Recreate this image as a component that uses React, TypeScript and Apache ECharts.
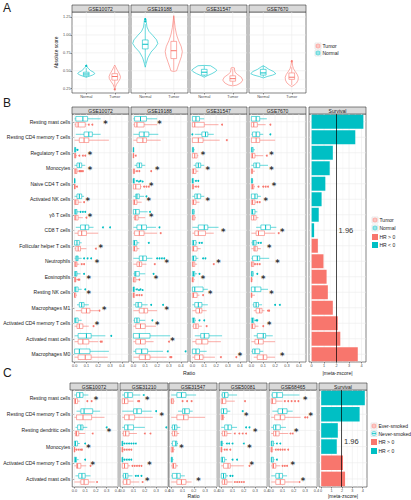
import React, { useEffect, useRef } from 'react';
import * as echarts from 'echarts';

const TEAL = '#00BFC4';
const RED = '#F8766D';
const FONT = '"Liberation Sans", Arial, Helvetica, sans-serif';

// ---------------- Panel A ----------------
const aDatasets = ['GSE10072', 'GSE19188', 'GSE31547', 'GSE7670'];
const aGroups = ['Normal', 'Tumor'];
const aScoreTicks = [0.25, 0.5, 0.75, 1.0, 1.25];
const aScoreMinor = [0.375, 0.625, 0.875, 1.125];
// violin outlines: [score, half-width as fraction of category band]
const violinGSE10072Normal = [[0.41, 0], [0.42, 0.08], [0.44, 0.22], [0.46, 0.3], [0.48, 0.26], [0.5, 0.16], [0.53, 0.08], [0.55, 0.04], [0.58, 0]];
const violinGSE10072Tumor = [[0.24, 0], [0.27, 0.02], [0.31, 0.06], [0.35, 0.13], [0.39, 0.19], [0.42, 0.2], [0.46, 0.16], [0.5, 0.1], [0.54, 0.05], [0.58, 0]];
const violinGSE19188Normal = [[0.55, 0], [0.6, 0.03], [0.68, 0.09], [0.76, 0.2], [0.83, 0.36], [0.88, 0.44], [0.93, 0.4], [0.99, 0.27], [1.05, 0.13], [1.11, 0.06], [1.17, 0.04], [1.21, 0.03], [1.235, 0]];
const violinGSE19188Tumor = [[0.49, 0], [0.5, 0.1], [0.55, 0.14], [0.62, 0.2], [0.7, 0.27], [0.77, 0.3], [0.84, 0.26], [0.92, 0.17], [1.0, 0.1], [1.1, 0.05], [1.2, 0.02], [1.27, 0]];
const violinGSE31547Normal = [[0.41, 0], [0.43, 0.1], [0.46, 0.27], [0.49, 0.4], [0.51, 0.44], [0.54, 0.34], [0.57, 0.22], [0.575, 0]];
const violinGSE31547Tumor = [[0.29, 0], [0.3, 0.14], [0.33, 0.28], [0.37, 0.35], [0.41, 0.3], [0.45, 0.16], [0.48, 0.08], [0.51, 0.065], [0.54, 0.06], [0.545, 0]];
const violinGSE7670Normal = [[0.4, 0], [0.42, 0.14], [0.44, 0.33], [0.46, 0.44], [0.49, 0.36], [0.52, 0.2], [0.55, 0.09], [0.57, 0]];
const violinGSE7670Tumor = [[0.28, 0], [0.3, 0.08], [0.33, 0.17], [0.37, 0.22], [0.41, 0.23], [0.45, 0.19], [0.49, 0.12], [0.53, 0.06], [0.57, 0.03], [0.61, 0.015], [0.65, 0]];
// box stats [min, q1, median, q3, max] for Normal, Tumor
const aBoxGSE10072 = [[0.41, 0.43, 0.455, 0.48, 0.54], [0.28, 0.37, 0.42, 0.46, 0.55]];
const aBoxGSE19188 = [[0.6, 0.805, 0.87, 0.93, 1.15], [0.5, 0.67, 0.78, 0.91, 1.26]];
const aBoxGSE31547 = [[0.42, 0.44, 0.48, 0.52, 0.57], [0.3, 0.355, 0.39, 0.43, 0.53]];
const aBoxGSE7670 = [[0.41, 0.44, 0.47, 0.52, 0.57], [0.3, 0.38, 0.41, 0.47, 0.55]];
// outliers: [dataset index, group, score]
const aOutliers = [[0, 0, 0.57], [0, 1, 0.24], [1, 0, 1.19], [1, 0, 1.22], [3, 1, 0.63]];

// ---------------- Panel B ----------------
const bCells = ['Resting mast cells', 'Resting CD4 memory T cells', 'Regulatory T cells', 'Monocytes', 'Naive CD4 T cells', 'Activated NK cells', 'γδ T cells', 'CD8 T cells', 'Follicular helper T cells', 'Neutrophils', 'Eosinophils', 'Resting NK cells', 'Macrophages M1', 'Activated CD4 memory T cells', 'Activated mast cells', 'Macrophages M0'];
const bDatasets = ['GSE10072', 'GSE19188', 'GSE31547', 'GSE7670'];
const ratioTicks = [0, 0.1, 0.2, 0.3, 0.4];
const ratioMinor = [0.05, 0.15, 0.25, 0.35, 0.45];

const bNormalGSE10072 = [[0, 0.01, 0.07, 0.11, 0.22], [0.01, 0.08, 0.12, 0.15, 0.22], [0, 0, 0.005, 0.01, 0.02], [0, 0.02, 0.04, 0.06, 0.09], [0, 0, 0, 0.003, 0.005], [0, 0.02, 0.04, 0.06, 0.08], [0, 0, 0.01, 0.02, 0.04], [0.01, 0.05, 0.09, 0.12, 0.16], [0, 0, 0.02, 0.04, 0.06], [0, 0.01, 0.02, 0.03, 0.06], [0, 0, 0.01, 0.02, 0.05], [0, 0, 0.01, 0.03, 0.06], [0.02, 0.04, 0.06, 0.08, 0.12], [0, 0, 0.01, 0.03, 0.06], [0, 0.03, 0.1, 0.14, 0.26], [0, 0, 0.04, 0.13, 0.29]];
const bTumorGSE10072 = [[0, 0.01, 0.03, 0.09, 0.1], [0, 0.04, 0.08, 0.12, 0.29], [0, 0, 0.005, 0.01, 0.02], [0, 0, 0.01, 0.02, 0.03], [0, 0, 0, 0.005, 0.01], [0, 0, 0.01, 0.03, 0.06], [0, 0, 0.01, 0.03, 0.07], [0, 0.03, 0.06, 0.1, 0.2], [0, 0.01, 0.03, 0.05, 0.1], [0, 0, 0.01, 0.02, 0.04], [0, 0, 0.005, 0.01, 0.02], [0, 0, 0, 0.01, 0.02], [0.01, 0.06, 0.1, 0.13, 0.2], [0, 0.02, 0.04, 0.07, 0.12], [0, 0.03, 0.07, 0.12, 0.2], [0, 0.03, 0.09, 0.14, 0.28]];
const bOutliersGSE10072 = [[0, 1, 0.12], [0, 1, 0.15], [2, 0, 0.025], [2, 1, 0.04], [2, 1, 0.07], [2, 1, 0.09], [3, 1, 0.04], [3, 1, 0.05], [3, 1, 0.06], [3, 1, 0.07], [4, 1, 0.02], [5, 1, 0.08], [6, 0, 0.05], [6, 0, 0.07], [6, 0, 0.09], [6, 1, 0.1], [7, 0, 0.24], [7, 0, 0.3], [8, 1, 0.18], [9, 0, 0.08], [9, 0, 0.11], [9, 0, 0.14], [9, 1, 0.06], [9, 1, 0.08], [10, 0, 0.08], [10, 1, 0.03], [10, 1, 0.04], [11, 0, 0.09], [12, 1, 0.21], [13, 1, 0.16], [14, 0, 0.31], [14, 1, 0.22], [14, 1, 0.23]];
const bStarsGSE10072 = [[0, 0.26], [2, 0.13], [3, 0.13], [5, 0.11], [6, 0.13], [8, 0.22], [9, 0.19], [10, 0.12], [11, 0.12], [12, 0.25], [13, 0.19]];

const bNormalGSE19188 = [[0, 0.01, 0.06, 0.11, 0.2], [0, 0.05, 0.09, 0.13, 0.21], [0, 0, 0, 0.003, 0.005], [0.01, 0.03, 0.05, 0.07, 0.1], [0, 0, 0, 0.01, 0.015], [0, 0.02, 0.03, 0.05, 0.09], [0, 0, 0.02, 0.05, 0.12], [0, 0.03, 0.07, 0.11, 0.19], [0, 0, 0.01, 0.03, 0.05], [0, 0.05, 0.08, 0.11, 0.16], [0, 0.01, 0.02, 0.05, 0.1], [0, 0, 0, 0.01, 0.02], [0, 0.02, 0.04, 0.07, 0.12], [0, 0.01, 0.03, 0.05, 0.1], [0, 0, 0.05, 0.14, 0.31], [0, 0.02, 0.07, 0.12, 0.25]];
const bTumorGSE19188 = [[0, 0.01, 0.03, 0.09, 0.2], [0, 0.03, 0.08, 0.11, 0.23], [0, 0, 0, 0.003, 0.005], [0, 0, 0.005, 0.01, 0.02], [0, 0, 0.02, 0.06, 0.07], [0, 0, 0.01, 0.03, 0.07], [0, 0.01, 0.02, 0.04, 0.1], [0, 0.01, 0.05, 0.09, 0.2], [0, 0, 0.01, 0.03, 0.05], [0, 0.03, 0.05, 0.07, 0.11], [0, 0, 0.005, 0.02, 0.04], [0, 0, 0, 0.01, 0.02], [0, 0.05, 0.09, 0.12, 0.2], [0, 0.02, 0.06, 0.1, 0.19], [0, 0.02, 0.06, 0.1, 0.17], [0, 0.05, 0.1, 0.14, 0.28]];
const bOutliersGSE19188 = [[2, 1, 0.02], [3, 1, 0.03], [3, 1, 0.05], [3, 1, 0.15], [4, 0, 0.03], [4, 0, 0.045], [4, 0, 0.06], [4, 0, 0.075], [4, 1, 0.09], [4, 1, 0.11], [4, 1, 0.13], [5, 0, 0.11], [6, 0, 0.14], [7, 0, 0.22], [7, 1, 0.23], [8, 0, 0.13], [9, 0, 0.2], [9, 0, 0.22], [9, 0, 0.24], [9, 0, 0.26], [9, 1, 0.18], [10, 0, 0.17], [10, 1, 0.05], [11, 0, 0.03], [11, 0, 0.045], [11, 0, 0.06], [11, 0, 0.075], [11, 1, 0.03], [11, 1, 0.05], [11, 1, 0.07], [12, 0, 0.15], [12, 0, 0.25], [13, 0, 0.16], [14, 1, 0.3], [15, 0, 0.29], [15, 0, 0.44], [15, 1, 0.31], [15, 1, 0.32]];
const bStarsGSE19188 = [[0, 0.22], [3, 0.2], [4, 0.15], [5, 0.13], [6, 0.15], [9, 0.28], [10, 0.19], [12, 0.28], [13, 0.2], [14, 0.33]];

const bNormalGSE31547 = [[0, 0, 0.03, 0.06, 0.1], [0.02, 0.08, 0.11, 0.13, 0.18], [0, 0, 0.005, 0.01, 0.02], [0.01, 0.03, 0.05, 0.07, 0.1], [0, 0, 0, 0.01, 0.015], [0, 0.02, 0.04, 0.07, 0.1], [0, 0, 0.005, 0.015, 0.02], [0, 0.05, 0.1, 0.13, 0.22], [0, 0, 0.01, 0.03, 0.04], [0, 0, 0.01, 0.03, 0.05], [0, 0, 0.01, 0.02, 0.04], [0, 0, 0.02, 0.09, 0.13], [0, 0.02, 0.05, 0.08, 0.13], [0, 0, 0.01, 0.02, 0.03], [0.02, 0.07, 0.1, 0.14, 0.25], [0, 0, 0.03, 0.06, 0.12]];
const bTumorGSE31547 = [[0, 0, 0.02, 0.1, 0.22], [0, 0, 0.05, 0.09, 0.23], [0, 0, 0.02, 0.04, 0.05], [0, 0, 0.01, 0.03, 0.05], [0, 0, 0.005, 0.01, 0.02], [0, 0, 0.01, 0.03, 0.06], [0, 0, 0.005, 0.02, 0.03], [0, 0.02, 0.05, 0.11, 0.18], [0, 0, 0.01, 0.04, 0.07], [0, 0, 0.005, 0.02, 0.04], [0, 0, 0, 0.01, 0.02], [0, 0, 0.01, 0.04, 0.06], [0, 0.03, 0.06, 0.08, 0.12], [0, 0.01, 0.03, 0.05, 0.08], [0, 0.03, 0.08, 0.13, 0.24], [0, 0.02, 0.06, 0.09, 0.19]];
const bOutliersGSE31547 = [[0, 1, 0.25], [1, 0, 0.0], [1, 1, 0.29], [4, 0, 0.03], [4, 0, 0.05], [4, 1, 0.03], [4, 1, 0.05], [8, 0, 0.06], [8, 0, 0.08], [9, 0, 0.09], [9, 0, 0.11], [9, 1, 0.18], [10, 0, 0.06], [11, 1, 0.09], [13, 0, 0.06], [13, 0, 0.1], [13, 1, 0.12], [15, 1, 0.24], [15, 1, 0.37]];
const bStarsGSE31547 = [[2, 0.09], [3, 0.13], [5, 0.13], [7, 0.26], [9, 0.22], [10, 0.09], [11, 0.15], [15, 0.4]];

const bNormalGSE7670 = [[0, 0, 0.04, 0.07, 0.13], [0, 0.01, 0.04, 0.07, 0.1], [0, 0, 0.005, 0.015, 0.03], [0, 0.02, 0.04, 0.07, 0.14], [0, 0, 0.005, 0.01, 0.015], [0, 0, 0.03, 0.05, 0.08], [0, 0, 0.01, 0.03, 0.05], [0.04, 0.08, 0.12, 0.16, 0.21], [0, 0.01, 0.02, 0.04, 0.05], [0, 0.01, 0.05, 0.07, 0.15], [0, 0, 0.005, 0.015, 0.02], [0, 0, 0.03, 0.08, 0.14], [0.01, 0.02, 0.04, 0.06, 0.09], [0, 0, 0.01, 0.02, 0.03], [0.02, 0.05, 0.1, 0.12, 0.18], [0, 0.01, 0.03, 0.07, 0.1]];
const bTumorGSE7670 = [[0, 0, 0.02, 0.05, 0.12], [0, 0, 0.04, 0.07, 0.2], [0, 0, 0.01, 0.03, 0.1], [0, 0, 0.005, 0.01, 0.03], [0, 0, 0.01, 0.02, 0.03], [0, 0, 0.01, 0.03, 0.04], [0, 0, 0.02, 0.04, 0.06], [0, 0.04, 0.06, 0.11, 0.2], [0, 0.02, 0.03, 0.05, 0.08], [0, 0, 0.005, 0.02, 0.025], [0, 0, 0, 0.005, 0.01], [0, 0, 0, 0.005, 0.03], [0.02, 0.04, 0.07, 0.09, 0.11], [0, 0, 0.01, 0.03, 0.06], [0, 0.03, 0.06, 0.1, 0.2], [0.02, 0.05, 0.1, 0.13, 0.2]];
const bOutliersGSE7670 = [[0, 1, 0.16], [1, 0, 0.16], [2, 1, 0.13], [4, 1, 0.06], [4, 1, 0.1], [4, 1, 0.12], [4, 1, 0.14], [5, 1, 0.05], [5, 1, 0.07], [7, 1, 0.23], [8, 0, 0.06], [8, 0, 0.08], [9, 1, 0.03], [9, 1, 0.05], [9, 1, 0.07], [10, 0, 0.05], [12, 0, 0.2], [12, 0, 0.24], [12, 1, 0.14], [12, 1, 0.15], [13, 0, 0.04], [13, 0, 0.05], [13, 1, 0.1]];
const bStarsGSE7670 = [[2, 0.17], [3, 0.17], [4, 0.19], [5, 0.12], [7, 0.26], [8, 0.15], [9, 0.22], [10, 0.1], [11, 0.17], [13, 0.15], [15, 0.26]];

const bZscore = [4.15, 3.5, 1.7, 1.45, 1.1, 0.8, 0.57, 0.2, 0.5, 0.95, 1.2, 1.3, 1.7, 2.1, 2.3, 3.7];
const bHR = ['<', '<', '<', '<', '<', '<', '<', '<', '>', '>', '>', '>', '>', '>', '>', '>'];

// ---------------- Panel C ----------------
const cCells = ['Resting mast cells', 'Resting CD4 memory T cells', 'Resting dendritic cells', 'Monocytes', 'Activated CD4 memory T cells', 'Activated mast cells'];
const cDatasets = ['GSE10072', 'GSE31210', 'GSE31547', 'GSE50081', 'GSE68465'];

const cNeverGSE10072 = [[0, 0.02, 0.05, 0.08, 0.13], [0.02, 0.06, 0.09, 0.17, 0.24], [0.01, 0.03, 0.06, 0.08, 0.12], [0, 0, 0.01, 0.03, 0.05], [0, 0, 0.01, 0.02, 0.04], [0.01, 0.04, 0.07, 0.1, 0.15]];
const cEverGSE10072 = [[0, 0, 0.01, 0.03, 0.05], [0, 0.02, 0.08, 0.16, 0.28], [0, 0.01, 0.02, 0.04, 0.1], [0, 0, 0, 0.005, 0.01], [0, 0.02, 0.03, 0.06, 0.11], [0, 0.06, 0.09, 0.13, 0.19]];
const cOutliersGSE10072 = [[2, 0, 0.3], [3, 0, 0.1], [4, 0, 0.1], [0, 1, 0.12], [0, 1, 0.16], [2, 1, 0.17], [3, 1, 0.02], [3, 1, 0.04], [3, 1, 0.06], [3, 1, 0.07], [4, 1, 0.15], [5, 1, 0.21]];
const cStarsGSE10072 = [[0, 0.2], [2, 0.32], [3, 0.13], [4, 0.17]];

const cNeverGSE31210 = [[0, 0.02, 0.05, 0.09, 0.16], [0, 0.1, 0.13, 0.17, 0.26], [0, 0.02, 0.05, 0.1, 0.2], [0, 0, 0, 0.005, 0.01], [0, 0, 0, 0.005, 0.01], [0, 0.01, 0.03, 0.05, 0.09]];
const cEverGSE31210 = [[0, 0, 0.02, 0.05, 0.1], [0, 0.02, 0.06, 0.11, 0.27], [0, 0.01, 0.03, 0.06, 0.13], [0, 0, 0, 0.005, 0.01], [0, 0, 0.02, 0.05, 0.07], [0, 0.01, 0.04, 0.07, 0.15]];
const cOutliersGSE31210 = [[0, 0, 0.19], [1, 0, 0.3], [2, 0, 0.39], [3, 0, 0.02], [3, 0, 0.04], [3, 0, 0.06], [3, 0, 0.08], [3, 0, 0.1], [3, 0, 0.12], [4, 0, 0.02], [4, 0, 0.04], [4, 0, 0.06], [4, 0, 0.08], [5, 0, 0.12], [5, 0, 0.14], [5, 0, 0.17], [0, 1, 0.14], [0, 1, 0.15], [2, 1, 0.2], [2, 1, 0.25], [3, 1, 0.02], [3, 1, 0.04], [3, 1, 0.06], [3, 1, 0.08], [4, 1, 0.09], [4, 1, 0.11], [4, 1, 0.13], [4, 1, 0.15], [4, 1, 0.17], [5, 1, 0.18]];
const cStarsGSE31210 = [[0, 0.22], [1, 0.35], [4, 0.24], [5, 0.22]];

const cNeverGSE31547 = [[0, 0.05, 0.09, 0.13, 0.22], [0.06, 0.1, 0.12, 0.16, 0.19], [0, 0.01, 0.03, 0.05, 0.08], [0, 0.01, 0.04, 0.05, 0.06], [0, 0, 0.005, 0.01, 0.02], [0, 0.01, 0.05, 0.08, 0.12]];
const cEverGSE31547 = [[0, 0, 0.005, 0.02, 0.03], [0, 0.05, 0.11, 0.15, 0.3], [0, 0.01, 0.03, 0.05, 0.07], [0, 0, 0.01, 0.02, 0.03], [0, 0.01, 0.02, 0.04, 0.06], [0, 0.05, 0.09, 0.13, 0.18]];
const cOutliersGSE31547 = [[0, 1, 0.1], [0, 1, 0.14], [0, 1, 0.18]];
const cStarsGSE31547 = [[3, 0.09], [5, 0.24]];

const cNeverGSE50081 = [[0, 0.01, 0.03, 0.06, 0.14], [0, 0, 0.02, 0.05, 0.08], [0, 0.03, 0.06, 0.09, 0.14], [0, 0, 0, 0.01, 0.02], [0, 0, 0.01, 0.03, 0.05], [0, 0, 0.02, 0.04, 0.06]];
const cEverGSE50081 = [[0, 0, 0.01, 0.04, 0.12], [0, 0, 0.01, 0.02, 0.03], [0, 0.01, 0.03, 0.05, 0.09], [0, 0, 0, 0.005, 0.01], [0, 0.02, 0.06, 0.08, 0.2], [0, 0.01, 0.03, 0.05, 0.1]];
const cOutliersGSE50081 = [[1, 0, 0.19], [2, 0, 0.22], [2, 0, 0.25], [3, 0, 0.05], [3, 0, 0.07], [3, 0, 0.1], [3, 0, 0.2], [4, 0, 0.1], [4, 0, 0.14], [5, 0, 0.08], [5, 0, 0.1], [0, 1, 0.21], [2, 1, 0.12], [2, 1, 0.16], [2, 1, 0.19], [2, 1, 0.22], [3, 1, 0.03], [3, 1, 0.05], [3, 1, 0.08], [4, 1, 0.25], [5, 1, 0.12], [5, 1, 0.14], [5, 1, 0.16], [5, 1, 0.18], [5, 1, 0.2]];
const cStarsGSE50081 = [[1, 0.22], [2, 0.3], [3, 0.25], [4, 0.27]];

const cNeverGSE68465 = [[0, 0.01, 0.05, 0.1, 0.25], [0.01, 0.06, 0.1, 0.14, 0.19], [0, 0.02, 0.04, 0.08, 0.13], [0, 0, 0.005, 0.02, 0.03], [0, 0, 0.005, 0.02, 0.03], [0, 0.04, 0.07, 0.1, 0.14]];
const cEverGSE68465 = [[0, 0, 0.01, 0.04, 0.1], [0, 0.03, 0.08, 0.12, 0.26], [0, 0.02, 0.04, 0.07, 0.15], [0, 0, 0, 0.01, 0.02], [0, 0.01, 0.02, 0.04, 0.08], [0, 0.04, 0.08, 0.12, 0.24]];
const cOutliersGSE68465 = [[3, 0, 0.05], [3, 0, 0.08], [4, 0, 0.05], [0, 1, 0.12], [0, 1, 0.15], [0, 1, 0.18], [0, 1, 0.21], [0, 1, 0.24], [1, 1, 0.3], [1, 1, 0.32], [2, 1, 0.17], [2, 1, 0.19], [3, 1, 0.04], [3, 1, 0.06], [3, 1, 0.08], [3, 1, 0.1], [3, 1, 0.12], [3, 1, 0.15], [4, 1, 0.1], [4, 1, 0.12], [4, 1, 0.14], [5, 1, 0.25]];
const cStarsGSE68465 = [[0, 0.3], [1, 0.35], [2, 0.22], [4, 0.19], [5, 0.28]];

const cZscore = [4.2, 3.7, 1.6, 1.5, 2.1, 2.3];
const cHR = ['<', '<', '<', '<', '>', '>'];

const zTicks = [0, 1, 2, 3, 4];
const zMinor = [0.5, 1.5, 2.5, 3.5];
const threshold = 1.96;

// ---------------- builder ----------------
function buildOption() {
  const grid: any[] = [];
  const xAxis: any[] = [];
  const yAxis: any[] = [];
  const series: any[] = [];
  const graphic: any[] = [];
  const tickLine = { color: '#333', width: 0.5 };
  const STRIP = 7;

  const strip = (left: number, top: number, width: number, title: string) => {
    graphic.push({ type: 'rect', silent: true, shape: { x: left, y: top - STRIP, width, height: STRIP }, style: { fill: '#d9d9d9', stroke: '#333', lineWidth: 0.6 } });
    graphic.push({ type: 'text', silent: true, x: left + width / 2, y: top - STRIP / 2, style: { text: title, fontSize: 5, fontFamily: FONT, fill: '#1a1a1a', align: 'center', verticalAlign: 'middle' } });
  };
  const addGrid = (left: number, top: number, width: number, height: number) => {
    grid.push({ left, top, width, height, show: true, backgroundColor: '#fff', borderColor: '#333', borderWidth: 0.6, containLabel: false });
    return grid.length - 1;
  };
  const lines = (gi: number, pts: number[][], vertical: boolean, w: number) => {
    series.push({
      type: 'custom', xAxisIndex: gi, yAxisIndex: gi, z: 1, silent: true, clip: false,
      encode: { x: 0, y: 1 }, data: pts,
      renderItem: (params: any, api: any) => {
        const cs = params.coordSys;
        const p = api.coord([api.value(0), api.value(1)]);
        const shape = vertical
          ? { x1: p[0], y1: cs.y, x2: p[0], y2: cs.y + cs.height }
          : { x1: cs.x, y1: p[1], x2: cs.x + cs.width, y2: p[1] };
        return { type: 'line', shape, style: { stroke: '#ebebeb', lineWidth: w } };
      },
    });
  };
  const valueAxis = (gi: number, min: number, max: number, ticks: number[], fmt: (v: number) => string) => ({
    gridIndex: gi, type: 'value', min, max,
    axisLine: { show: false }, splitLine: { show: false },
    axisTick: { show: true, length: 1.5, lineStyle: tickLine, customValues: ticks },
    axisLabel: { show: true, fontSize: 3.8, color: '#4d4d4d', fontFamily: FONT, margin: 1.5, customValues: ticks, formatter: fmt },
  });
  const catAxis = (gi: number, cats: string[], showLabels: boolean, inverse: boolean, fs: number) => ({
    gridIndex: gi, type: 'category', data: cats, inverse,
    axisLine: { show: false }, splitLine: { show: false },
    axisTick: { show: showLabels, alignWithLabel: true, length: 1.5, lineStyle: tickLine },
    axisLabel: { show: showLabels, fontSize: fs, color: '#1a1a1a', fontFamily: FONT, margin: 2 },
  });

  // ---- Panel A ----
  const aViolins = [
    [violinGSE10072Normal, violinGSE10072Tumor],
    [violinGSE19188Normal, violinGSE19188Tumor],
    [violinGSE31547Normal, violinGSE31547Tumor],
    [violinGSE7670Normal, violinGSE7670Tumor],
  ];
  const aBoxes = [aBoxGSE10072, aBoxGSE19188, aBoxGSE31547, aBoxGSE7670];
  const aLefts = [72, 131, 190, 249];
  aDatasets.forEach((ds, k) => {
    const gi = addGrid(aLefts[k], 12, 57, 81);
    strip(aLefts[k], 12, 57, ds);
    const xa: any = catAxis(gi, aGroups, true, false, 3.8);
    xa.axisLabel.color = '#4d4d4d';
    xa.axisLabel.margin = 1.5;
    xAxis.push(xa);
    const ya: any = valueAxis(gi, 0.19, 1.32, aScoreTicks, (v: number) => v.toFixed(2));
    ya.axisLabel.show = k === 0;
    ya.axisTick.show = k === 0;
    if (k === 0) {
      ya.name = 'Absolute score';
      ya.nameLocation = 'middle';
      ya.nameRotate = 90;
      ya.nameGap = 13;
      ya.nameTextStyle = { fontSize: 4.8, fontFamily: FONT, color: '#1a1a1a' };
    }
    yAxis.push(ya);
    lines(gi, aScoreMinor.map((v) => [0, v]), false, 0.3);
    lines(gi, aScoreTicks.map((v) => [0, v]), false, 0.6);
    lines(gi, aGroups.map((_, i) => [i, 0.5]), true, 0.6);
    series.push({
      type: 'custom', xAxisIndex: gi, yAxisIndex: gi, z: 2, clip: false, encode: { x: 0, y: 1 },
      data: aGroups.map((_, g) => [g, 0.5]),
      renderItem: (params: any, api: any) => {
        const g = api.value(0);
        const prof = aViolins[k][g];
        const band = api.size([1, 0])[0];
        const cx = api.coord([g, 0.5])[0];
        const right = prof.map(([s, w]) => [cx + w * band, api.coord([g, s])[1]]);
        const left = prof.slice().reverse().map(([s, w]) => [cx - w * band, api.coord([g, s])[1]]);
        return { type: 'polygon', shape: { points: right.concat(left) }, style: { fill: '#fff', stroke: g ? RED : TEAL, lineWidth: 0.6 } };
      },
    });
    series.push({
      type: 'custom', xAxisIndex: gi, yAxisIndex: gi, z: 3, clip: false, encode: { x: 0, y: [1, 2, 3, 4, 5] },
      data: aBoxes[k].map((s, g) => [g, ...s]),
      renderItem: (params: any, api: any) => {
        const g = api.value(0);
        const band = api.size([1, 0])[0];
        const cx = api.coord([g, 0.5])[0];
        const hw = band * 0.1;
        const Y = (d: number) => api.coord([g, api.value(d)])[1];
        const c = g ? RED : TEAL;
        const st = { stroke: c, lineWidth: 0.6 };
        return {
          type: 'group', children: [
            { type: 'line', shape: { x1: cx, y1: Y(1), x2: cx, y2: Y(2) }, style: st },
            { type: 'line', shape: { x1: cx, y1: Y(4), x2: cx, y2: Y(5) }, style: st },
            { type: 'rect', shape: { x: cx - hw, y: Y(4), width: hw * 2, height: Y(2) - Y(4) }, style: { ...st, fill: '#fff' } },
            { type: 'line', shape: { x1: cx - hw, y1: Y(3), x2: cx + hw, y2: Y(3) }, style: { stroke: c, lineWidth: 1 } },
          ],
        };
      },
    });
    series.push({
      type: 'custom', xAxisIndex: gi, yAxisIndex: gi, z: 4, clip: false, encode: { x: 0, y: 1 },
      data: aOutliers.filter((o) => o[0] === k).map((o) => [o[1], o[2]]),
      renderItem: (params: any, api: any) => {
        const g = api.value(0);
        const p = api.coord([g, api.value(1)]);
        return { type: 'circle', shape: { cx: p[0], cy: p[1], r: 1 }, style: { fill: g ? RED : TEAL } };
      },
    });
  });

  // ---- box panels (B, C) ----
  const boxPanel = (left: number, top: number, width: number, height: number, title: string, cats: string[], first: boolean,
    xMax: number, upper: number[][], lower: number[][], outliers: number[][], stars: number[][]) => {
    const gi = addGrid(left, top, width, height);
    strip(left, top, width, title);
    xAxis.push(valueAxis(gi, -0.02, xMax, ratioTicks, (v: number) => v.toFixed(1)));
    yAxis.push(catAxis(gi, cats, first, true, 5));
    lines(gi, ratioMinor.map((v) => [v, 0]), true, 0.3);
    lines(gi, ratioTicks.map((v) => [v, 0]), true, 0.6);
    lines(gi, cats.map((_, i) => [0, i]), false, 0.6);
    const rows = upper.map((s, i) => [i, 0, ...s]).concat(lower.map((s, i) => [i, 1, ...s]));
    series.push({
      type: 'custom', xAxisIndex: gi, yAxisIndex: gi, z: 3, clip: false, encode: { x: [2, 3, 4, 5, 6], y: 0 },
      data: rows,
      renderItem: (params: any, api: any) => {
        const cat = api.value(0);
        const g = api.value(1);
        const band = api.size([0, 1])[1];
        const cy = api.coord([0, cat])[1] + (g === 0 ? -1 : 1) * band * 0.19;
        const h = band * 0.3;
        const X = (d: number) => api.coord([api.value(d), cat])[0];
        const x0 = X(2), x1 = X(3), x2 = X(4), x3 = X(5), x4 = X(6);
        const c = g === 0 ? TEAL : RED;
        const st = { stroke: c, lineWidth: 0.6 };
        return {
          type: 'group', children: [
            { type: 'line', shape: { x1: x0, y1: cy, x2: x1, y2: cy }, style: st },
            { type: 'line', shape: { x1: x3, y1: cy, x2: x4, y2: cy }, style: st },
            { type: 'rect', shape: { x: x1, y: cy - h / 2, width: Math.max(x3 - x1, 0.4), height: h }, style: { ...st, fill: '#fff' } },
            { type: 'line', shape: { x1: x2, y1: cy - h / 2, x2: x2, y2: cy + h / 2 }, style: { stroke: c, lineWidth: 1 } },
          ],
        };
      },
    });
    series.push({
      type: 'custom', xAxisIndex: gi, yAxisIndex: gi, z: 4, clip: false, encode: { x: 2, y: 0 },
      data: outliers,
      renderItem: (params: any, api: any) => {
        const cat = api.value(0);
        const g = api.value(1);
        const band = api.size([0, 1])[1];
        const p = api.coord([api.value(2), cat]);
        return { type: 'circle', shape: { cx: p[0], cy: p[1] + (g === 0 ? -1 : 1) * band * 0.19, r: 0.95 }, style: { fill: g === 0 ? TEAL : RED } };
      },
    });
    series.push({
      type: 'custom', xAxisIndex: gi, yAxisIndex: gi, z: 5, clip: false, encode: { x: 1, y: 0 },
      data: stars,
      renderItem: (params: any, api: any) => {
        const p = api.coord([api.value(1), api.value(0)]);
        return { type: 'text', x: p[0], y: p[1] + 1.8, style: { text: '*', fontSize: 8.5, fontWeight: 'bold', fontFamily: 'DejaVu Sans', fill: '#333', align: 'center', verticalAlign: 'middle' } };
      },
    });
  };

  const survivalPanel = (left: number, top: number, width: number, height: number, cats: string[], z: number[], hr: string[], zMax: number, labelCat: number, labelX: number, labelDy: number) => {
    const gi = addGrid(left, top, width, height);
    strip(left, top, width, 'Survival');
    xAxis.push(valueAxis(gi, -0.21, zMax, zTicks, (v: number) => String(v)));
    yAxis.push(catAxis(gi, cats, false, true, 5));
    lines(gi, zMinor.map((v) => [v, 0]), true, 0.3);
    lines(gi, zTicks.map((v) => [v, 0]), true, 0.6);
    lines(gi, cats.map((_, i) => [0, i]), false, 0.6);
    series.push({
      type: 'bar', xAxisIndex: gi, yAxisIndex: gi, z: 3, barCategoryGap: '10%',
      data: z.map((v, i) => ({ value: v, itemStyle: { color: hr[i] === '>' ? RED : TEAL } })),
      markLine: { silent: true, symbol: 'none', label: { show: false }, lineStyle: { color: '#000', width: 0.7, type: 'solid' }, data: [{ xAxis: threshold }] },
    });
    series.push({
      type: 'custom', xAxisIndex: gi, yAxisIndex: gi, z: 6, clip: false, encode: { x: 0, y: 1 },
      data: [[labelX, labelCat]],
      renderItem: (params: any, api: any) => {
        const p = api.coord([api.value(0), api.value(1)]);
        return { type: 'text', x: p[0], y: p[1] + labelDy, style: { text: String(threshold), fontSize: 7.5, fontFamily: FONT, fill: '#333', align: 'center', verticalAlign: 'middle' } };
      },
    });
  };

  // Panel B
  const bUpper = [bNormalGSE10072, bNormalGSE19188, bNormalGSE31547, bNormalGSE7670];
  const bLower = [bTumorGSE10072, bTumorGSE19188, bTumorGSE31547, bTumorGSE7670];
  const bOut = [bOutliersGSE10072, bOutliersGSE19188, bOutliersGSE31547, bOutliersGSE7670];
  const bStar = [bStarsGSE10072, bStarsGSE19188, bStarsGSE31547, bStarsGSE7670];
  const bLefts = [72, 131, 190, 249];
  bDatasets.forEach((ds, k) => boxPanel(bLefts[k], 114, 57, 248, ds, bCells, k === 0, 0.46, bUpper[k], bLower[k], bOut[k], bStar[k]));
  survivalPanel(309, 114, 57, 248, bCells, bZscore, bHR, 4.36, 7, 2.75, 0.5);

  // Panel C
  const cUpper = [cNeverGSE10072, cNeverGSE31210, cNeverGSE31547, cNeverGSE50081, cNeverGSE68465];
  const cLower = [cEverGSE10072, cEverGSE31210, cEverGSE31547, cEverGSE50081, cEverGSE68465];
  const cOut = [cOutliersGSE10072, cOutliersGSE31210, cOutliersGSE31547, cOutliersGSE50081, cOutliersGSE68465];
  const cStar = [cStarsGSE10072, cStarsGSE31210, cStarsGSE31547, cStarsGSE50081, cStarsGSE68465];
  const cLefts = [70, 120, 169, 219, 269];
  cDatasets.forEach((ds, k) => boxPanel(cLefts[k], 390, 48, 97, ds, cCells, k === 0, 0.405, cUpper[k], cLower[k], cOut[k], cStar[k]));
  survivalPanel(319, 390, 48, 97, cCells, cZscore, cHR, 4.41, 3, 2.9, -5);

  // titles and labels
  const txt = (x: number, y: number, text: string, fontSize: number, align = 'center', extra: any = {}) =>
    graphic.push({ type: 'text', silent: true, x, y, style: { text, fontSize, fontFamily: FONT, fill: '#1a1a1a', align, verticalAlign: 'middle', ...extra } });
  txt(3, 8, 'A', 12, 'left');
  txt(3, 102.5, 'B', 12, 'left');
  txt(3, 372.5, 'C', 12, 'left');
  txt(189, 373, 'Ratio', 5.2);
  txt(337.5, 373, '|meta-zscore|', 5);
  txt(193.5, 496, 'Ratio', 5.2);
  txt(343, 496, '|meta-zscore|', 5);

  // legends
  const boxKey = (x: number, cy: number, color: string, label: string) => {
    graphic.push({ type: 'rect', silent: true, shape: { x, y: cy - 3, width: 6, height: 6 }, style: { fill: '#fff', stroke: '#cccccc', lineWidth: 0.4 } });
    graphic.push({ type: 'line', silent: true, shape: { x1: x + 3, y1: cy - 2.6, x2: x + 3, y2: cy + 2.6 }, style: { stroke: color, lineWidth: 0.5 } });
    graphic.push({ type: 'rect', silent: true, shape: { x: x + 1, y: cy - 1.6, width: 4, height: 3.2 }, style: { fill: '#fff', stroke: color, lineWidth: 0.5 } });
    graphic.push({ type: 'line', silent: true, shape: { x1: x + 1, y1: cy, x2: x + 5, y2: cy }, style: { stroke: color, lineWidth: 0.8 } });
    txt(x + 7.5, cy, label, 5, 'left');
  };
  const fillKey = (x: number, cy: number, color: string, label: string) => {
    graphic.push({ type: 'rect', silent: true, shape: { x, y: cy - 3, width: 6, height: 6 }, style: { fill: color } });
    txt(x + 7.5, cy, label, 5, 'left');
  };
  boxKey(315, 46, RED, 'Tumor');
  boxKey(315, 53, TEAL, 'Normal');
  boxKey(372, 220, RED, 'Tumor');
  boxKey(372, 228, TEAL, 'Normal');
  fillKey(372, 237, RED, 'HR > 0');
  fillKey(372, 245, TEAL, 'HR < 0');
  boxKey(371, 426, RED, 'Ever-smoked');
  boxKey(371, 433.5, TEAL, 'Never-smoked');
  fillKey(371, 442, RED, 'HR > 0');
  fillKey(371, 451, TEAL, 'HR < 0');

  return { animation: false, backgroundColor: '#fff', grid, xAxis, yAxis, series, graphic };
}

export default function App() {
  const ref = useRef<HTMLDivElement>(null);
  useEffect(() => {
    const chart = echarts.init(ref.current!, null, { renderer: 'svg' });
    chart.setOption(buildOption() as any);
    return () => chart.dispose();
  }, []);
  return <div ref={ref} style={{ position: 'fixed', left: 0, top: 0, width: 411, height: 500, background: '#fff' }} />;
}
